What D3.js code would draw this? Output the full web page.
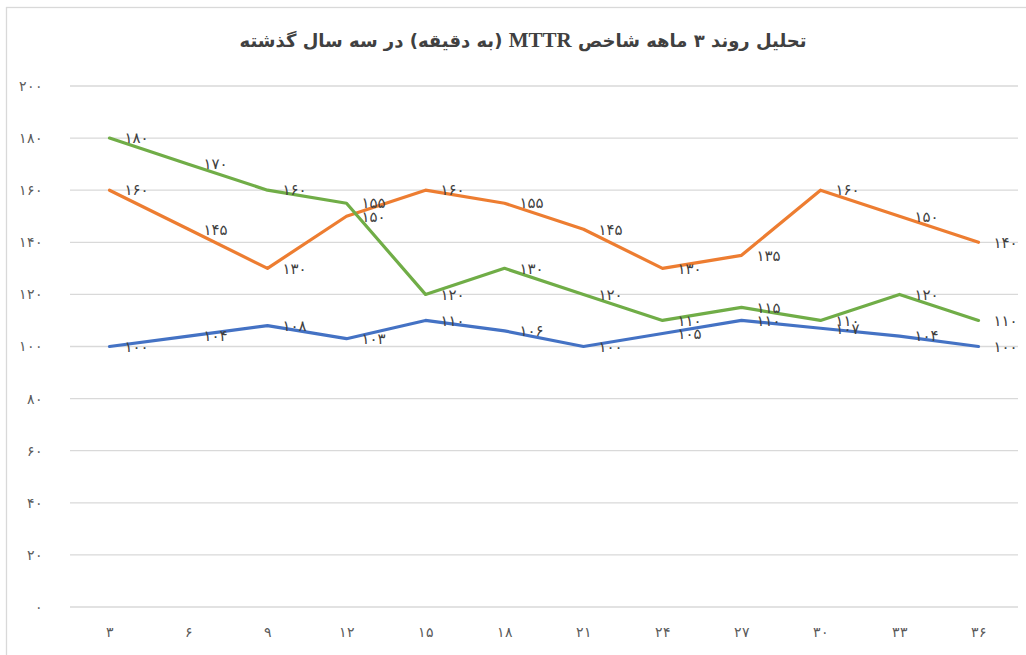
<!DOCTYPE html>
<html>
<head>
  <meta charset="utf-8">
  <script src="https://cdnjs.cloudflare.com/ajax/libs/d3/7.8.5/d3.min.js"></script>
  <style>
    body, html { margin: 0; padding: 0; background: #fff; }
    svg { display: block; font-family: "DejaVu Sans", sans-serif; }
    .grid line { stroke: #d9d9d9; stroke-width: 1.3px; }
    .tick text { fill: #595959; font-size: 14px; }
    .lbl { fill: #404040; font-size: 15px; }
  </style>
</head>
<body>
<div id="chart"></div>
<script>
// months (x axis categories)
const months = [3, 6, 9, 12, 15, 18, 21, 24, 27, 30, 33, 36];
const yTicks = [0, 20, 40, 60, 80, 100, 120, 140, 160, 180, 200];

// three series
const blueSeries   = [100, 104, 108, 103, 110, 106, 100, 105, 110, 107, 104, 100];
const orangeSeries = [160, 145, 130, 150, 160, 155, 145, 130, 135, 160, 150, 140];
const greenSeries  = [180, 170, 160, 155, 120, 130, 120, 110, 115, 110, 120, 110];

const seriesList = [
  { values: blueSeries,   color: "#4472C4" },
  { values: orangeSeries, color: "#ED7D31" },
  { values: greenSeries,  color: "#70AD47" }
];

const W = 1026, H = 655;
const margin = { top: 86, right: 8, bottom: 48, left: 70 };

// persian digits
const fa = n => String(n).replace(/\d/g, d => "۰۱۲۳۴۵۶۷۸۹"[d]);

const svg = d3.select("#chart").append("svg")
  .attr("width", W)
  .attr("height", H);

// chart frame
svg.append("rect")
  .attr("x", 6.5).attr("y", 7.5)
  .attr("width", W + 10).attr("height", H + 10)
  .attr("fill", "none")
  .attr("stroke", "#d9d9d9")
  .attr("stroke-width", 1.3);

const x = d3.scaleBand()
  .domain(months)
  .range([margin.left, W - margin.right]);

const y = d3.scaleLinear()
  .domain([0, 200])
  .range([H - margin.bottom, margin.top]);

// title (MTTR in a serif face like the original)
const title = svg.append("text")
  .attr("x", 523)
  .attr("y", 47)
  .attr("text-anchor", "middle")
  .attr("direction", "rtl")
  .style("font-size", "18px")
  .style("font-weight", "bold")
  .style("fill", "#404040");
title.append("tspan").text("تحلیل روند ۳ ماهه شاخص ");
title.append("tspan").style("font-family", "Liberation Serif").style("font-size", "21px").text("MTTR");
title.append("tspan").text("  (به دقیقه) در سه سال گذشته");

// gridlines
svg.append("g")
  .attr("class", "grid")
  .selectAll("line")
  .data(yTicks)
  .join("line")
    .attr("x1", margin.left)
    .attr("x2", W - margin.right)
    .attr("y1", d => y(d))
    .attr("y2", d => y(d));

// y axis
const yAxis = svg.append("g")
  .attr("transform", `translate(${margin.left},0)`)
  .call(d3.axisLeft(y).tickValues(yTicks).tickFormat(fa).tickSize(0).tickPadding(27));
yAxis.select(".domain").remove();

// x axis
const xAxis = svg.append("g")
  .attr("transform", `translate(0,${H - margin.bottom})`)
  .call(d3.axisBottom(x).tickFormat(fa).tickSize(0).tickPadding(20));
xAxis.select(".domain").remove();

const line = d3.line()
  .x((d, i) => x(months[i]) + x.bandwidth() / 2)
  .y(d => y(d));

seriesList.forEach(s => {
  svg.append("path")
    .datum(s.values)
    .attr("fill", "none")
    .attr("stroke", s.color)
    .attr("stroke-width", 3.2)
    .attr("stroke-linejoin", "round")
    .attr("stroke-linecap", "round")
    .attr("d", line);
});

// data labels, to the right of each point
seriesList.forEach(s => {
  svg.append("g")
    .selectAll("text")
    .data(s.values)
    .join("text")
      .attr("class", "lbl")
      .attr("x", (d, i) => x(months[i]) + x.bandwidth() / 2 + 15)
      .attr("y", d => y(d))
      .attr("dy", "0.35em")
      .text(fa);
});
</script>
</body>
</html>
